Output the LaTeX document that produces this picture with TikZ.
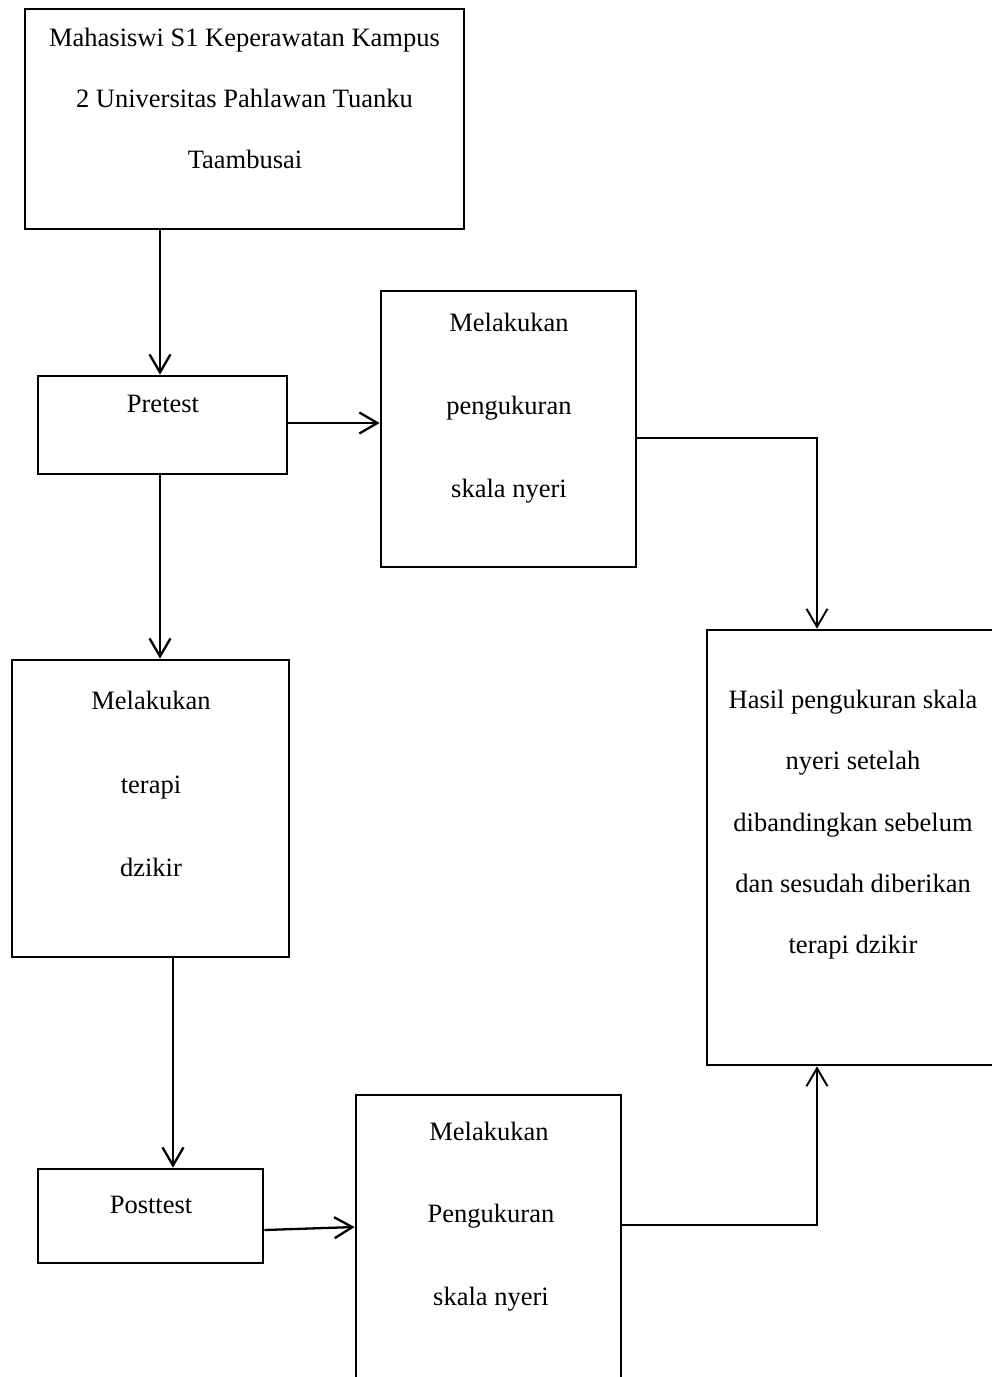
\documentclass[tikz,border=0pt]{standalone}
\usepackage{fontspec}
\setmainfont{Liberation Serif}
\usetikzlibrary{arrows.meta}
\begin{document}
\begin{tikzpicture}[x=1pt,y=-1pt,
  box/.style={draw=black,line width=2.7pt,rectangle,inner sep=0pt,fill=none},
  txt/.style={anchor=base,inner sep=0pt,font=\fontsize{26.5}{30}\selectfont},
  arr/.style={line width=2.3pt,-{Straight Barb[length=18pt,width=21pt]}},
  arrthin/.style={line width=1.9pt,-{Straight Barb[length=18pt,width=21pt]}}]
\fill[white] (0,0) rectangle (992,1377);
\useasboundingbox (0,0) rectangle (992,1377);
% boxes
\node[box,minimum width=439pt,minimum height=220pt] (top) at (244.5,119) {};
\node[box,minimum width=249pt,minimum height=98pt] (pre) at (162.5,425) {};
\node[box,minimum width=255pt,minimum height=276pt] (melA) at (508.5,429) {};
\node[box,minimum width=277pt,minimum height=297pt] (ter) at (150.5,808.5) {};
\node[box,minimum width=292pt,minimum height=435pt] (has) at (853,847.5) {};
\node[box,minimum width=225pt,minimum height=94pt] (post) at (150.5,1216) {};
\node[box,minimum width=265pt,minimum height=310pt] (melB) at (488.5,1250) {};
% texts
\node[txt] (t1) at (244.5,46) {Mahasiswi S1 Keperawatan Kampus};
\node[txt] (t2) at (244.5,107) {2 Universitas Pahlawan Tuanku};
\node[txt] (t3) at (245,168) {Taambusai};
\node[txt] (p1) at (163,412) {Pretest};
\node[txt] (a1) at (509,331) {Melakukan};
\node[txt] (a2) at (509,414) {pengukuran};
\node[txt] (a3) at (509,497) {skala nyeri};
\node[txt] (d1) at (151,709) {Melakukan};
\node[txt] (d2) at (151,793) {terapi};
\node[txt] (d3) at (151,876) {dzikir};
\node[txt] (h1) at (853,708) {Hasil pengukuran skala};
\node[txt] (h2) at (853,769) {nyeri setelah};
\node[txt] (h3) at (853,831) {dibandingkan sebelum};
\node[txt] (h4) at (853,892) {dan sesudah diberikan};
\node[txt] (h5) at (853,953) {terapi dzikir};
\node[txt] (q1) at (151,1213) {Posttest};
\node[txt] (b1) at (489,1140) {Melakukan};
\node[txt] (b2) at (491,1222) {Pengukuran};
\node[txt] (b3) at (491,1305) {skala nyeri};
% guide coordinates
\coordinate (xa) at (160,0);
\coordinate (xb) at (173,0);
\coordinate (xr) at (817,0);
\coordinate (ya) at (0,423);
\coordinate (yb) at (0,438);
\coordinate (yc) at (0,1230);
\coordinate (yd) at (0,1227);
\coordinate (ye) at (0,1225);
% connectors
\draw[arr] (top.south -| xa) -- (pre.north -| xa);
\draw[arr] (pre.east |- ya) -- (melA.west |- ya);
\draw[arr] (pre.south -| xa) -- (ter.north -| xa);
\draw[arr] (ter.south -| xb) -- (post.north -| xb);
\draw[arr] (post.east |- yc) -- (melB.west |- yd);
\draw[arrthin] (melA.east |- yb) -| (has.north -| xr);
\draw[arrthin] (melB.east |- ye) -| (has.south -| xr);
\end{tikzpicture}
\end{document}
